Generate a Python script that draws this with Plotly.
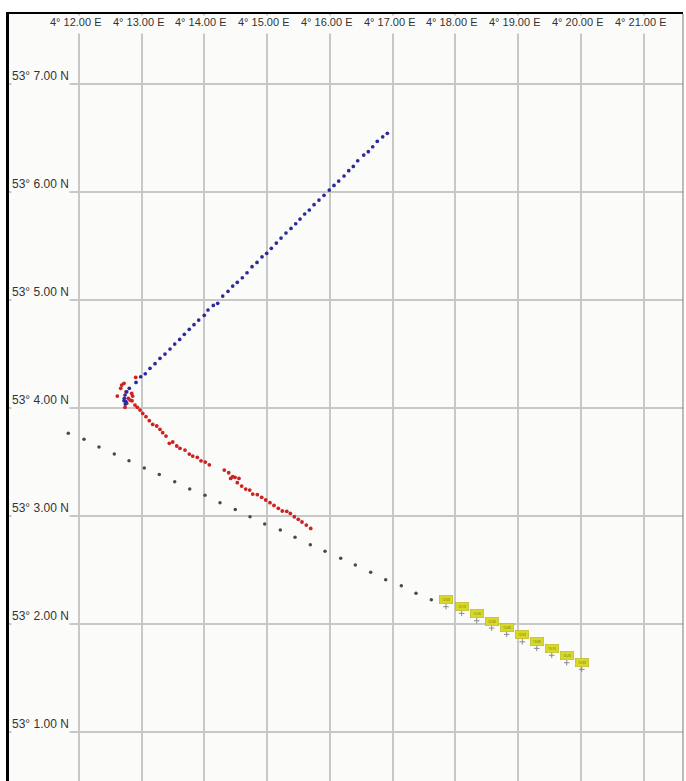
import plotly.graph_objects as go

# Minutes east of 4° and north of 53°
lon_ticks = [12, 13, 14, 15, 16, 17, 18, 19, 20, 21]
lat_ticks = [1, 2, 3, 4, 5, 6, 7]

# Track of the drifting object (dark grey dots)
track_lon = [11.831, 12.081, 12.320, 12.564, 12.798, 13.042, 13.281, 13.527, 13.766,
             14.010, 14.249, 14.492, 14.727, 14.961, 15.210, 15.444, 15.688, 15.922,
             16.172, 16.405, 16.650, 16.889, 17.138, 17.372, 17.616]
track_lat = [3.761, 3.706, 3.634, 3.569, 3.507, 3.440, 3.381, 3.313, 3.245,
             3.187, 3.119, 3.057, 2.989, 2.921, 2.866, 2.798, 2.730, 2.669,
             2.604, 2.542, 2.474, 2.406, 2.350, 2.280, 2.220]

# Forecast positions with time tags (yellow labels)
fc_lon = [17.850, 18.100, 18.339, 18.578, 18.817, 19.066, 19.296, 19.535, 19.774, 20.013]
fc_lat = [2.156, 2.094, 2.026, 1.958, 1.900, 1.831, 1.770, 1.706, 1.637, 1.576]
fc_tags = ["12:00", "12:10", "12:20", "12:30", "12:40", "12:50", "13:00", "13:10", "13:20", "13:30"]

# Vessel 1 (red)
red_lon = [12.905, 12.719, 12.682, 12.666, 12.612, 12.751, 12.841, 12.857, 12.787, 12.814,
           12.846, 12.762, 12.735, 12.894, 12.931, 12.974, 13.017, 13.069, 13.122, 13.176,
           13.240, 13.292, 13.335, 13.388, 13.441, 13.495, 13.559, 13.611, 13.691, 13.759,
           13.814, 13.887, 13.946, 14.014, 14.078, 14.317, 14.387, 14.451, 14.488, 14.419,
           14.551, 14.524, 14.594, 14.658, 14.722, 14.770, 14.843, 14.913, 14.977, 15.045,
           15.109, 15.178, 15.241, 15.312, 15.369, 15.433, 15.496, 15.555, 15.624, 15.694]
red_lat = [4.280, 4.224, 4.208, 4.178, 4.106, 4.146, 4.131, 4.106, 4.085, 4.069,
           4.063, 4.039, 4.002, 4.023, 4.002, 3.977, 3.946, 3.915, 3.878, 3.844,
           3.829, 3.798, 3.767, 3.736, 3.669, 3.681, 3.644, 3.622, 3.606, 3.569,
           3.551, 3.539, 3.507, 3.495, 3.470, 3.421, 3.396, 3.359, 3.354, 3.344,
           3.344, 3.304, 3.273, 3.245, 3.236, 3.199, 3.193, 3.169, 3.144, 3.119,
           3.094, 3.067, 3.042, 3.039, 3.020, 2.989, 2.965, 2.940, 2.912, 2.881]

# Vessel 2 (blue)
blue_lon = [16.915, 16.841, 16.755, 16.682, 16.612, 16.539, 16.443, 16.373, 16.300, 16.225,
            16.140, 16.065, 15.990, 15.906, 15.826, 15.747, 15.672, 15.598, 15.524, 15.455,
            15.380, 15.300, 15.221, 15.146, 15.066, 14.993, 14.918, 14.838, 14.759, 14.679,
            14.604, 14.524, 14.451, 14.376, 14.292, 14.212, 14.142, 14.057, 13.998, 13.909,
            13.834, 13.759, 13.680, 13.606, 13.527, 13.452, 13.372, 13.292, 13.213, 13.133,
            13.058, 12.985, 12.910, 12.803, 12.762, 12.735, 12.724, 12.719, 12.751, 12.739]
blue_lat = [6.539, 6.507, 6.465, 6.415, 6.369, 6.338, 6.285, 6.233, 6.193, 6.144,
            6.097, 6.057, 6.014, 5.965, 5.921, 5.878, 5.829, 5.792, 5.745, 5.702,
            5.659, 5.616, 5.569, 5.523, 5.474, 5.428, 5.396, 5.344, 5.304, 5.248,
            5.202, 5.159, 5.125, 5.076, 5.032, 4.965, 4.946, 4.903, 4.854, 4.810,
            4.767, 4.724, 4.678, 4.631, 4.588, 4.542, 4.495, 4.456, 4.406, 4.363,
            4.313, 4.285, 4.233, 4.178, 4.146, 4.116, 4.085, 4.063, 4.054, 4.032]

PLOT_BG = "#fbfcfa"
TOP_FONT = dict(family="Liberation Sans, Arial, sans-serif", size=11, color="#333333")
SIDE_FONT = dict(family="Liberation Sans, Arial, sans-serif", size=12, color="#333333")

fig = go.Figure()

fig.add_trace(go.Scatter(x=track_lon, y=track_lat, mode="markers",
                         marker=dict(size=3.5, color="#4a4a4a"), hoverinfo="skip"))
fig.add_trace(go.Scatter(x=fc_lon, y=fc_lat, mode="markers",
                         marker=dict(size=4, color="#8a8a8a", symbol="cross-thin-open",
                                     line=dict(width=1, color="#8a8a8a")),
                         hoverinfo="skip"))
fig.add_trace(go.Scatter(x=red_lon, y=red_lat, mode="markers",
                         marker=dict(size=3.8, color="#cc2222"), hoverinfo="skip"))
fig.add_trace(go.Scatter(x=blue_lon, y=blue_lat, mode="markers",
                         marker=dict(size=3.7, color="#2a2a9c"), hoverinfo="skip"))

annotations = []
# Yellow time tags above the forecast positions
for lo, la, tag in zip(fc_lon, fc_lat, fc_tags):
    annotations.append(dict(x=lo, y=la, xref="x", yref="y", text=tag, showarrow=False,
                            yshift=7, font=dict(size=3, color="#666600"),
                            bgcolor="#d8d828", bordercolor="#b0b020", borderwidth=0.5,
                            borderpad=1, width=11, height=6))
# Longitude labels along the top
for m in lon_ticks:
    annotations.append(dict(x=m, y=1, xref="x", yref="paper", text=f"4° {m:.2f} E",
                            showarrow=False, xanchor="center", yanchor="top",
                            xshift=-3, yshift=-1, font=TOP_FONT, bgcolor=PLOT_BG,
                            borderpad=0, height=17, valign="top"))
# Latitude labels on the left
for m in lat_ticks:
    annotations.append(dict(x=0, y=m, xref="paper", yref="y", text=f"53° {m:.2f} N",
                            showarrow=False, xanchor="left", yanchor="middle",
                            xshift=2, yshift=7, font=SIDE_FONT, bgcolor=PLOT_BG,
                            borderpad=0, height=16, valign="top"))

fig.update_layout(
    width=686, height=781, autosize=False,
    margin=dict(l=9, r=3, t=14, b=0, pad=0),
    paper_bgcolor="white", plot_bgcolor=PLOT_BG,
    showlegend=False,
    annotations=annotations,
    shapes=[dict(type="line", xref="paper", yref="paper", x0=1, x1=1, y0=0, y1=1,
                 line=dict(color="#777777", width=1))],
)
fig.update_xaxes(range=[10.886, 21.627], tickvals=lon_ticks, showticklabels=False,
                 ticks="", showgrid=True, gridcolor="#c8c8c8", gridwidth=1.5,
                 zeroline=False, side="top", showline=True, linecolor="black",
                 linewidth=2)
fig.update_yaxes(range=[0.542, 7.644], tickvals=lat_ticks, showticklabels=False,
                 ticks="", showgrid=True, gridcolor="#c8c8c8", gridwidth=1.5,
                 zeroline=False, showline=True, linecolor="black", linewidth=3)

fig.write_html("out.html")
